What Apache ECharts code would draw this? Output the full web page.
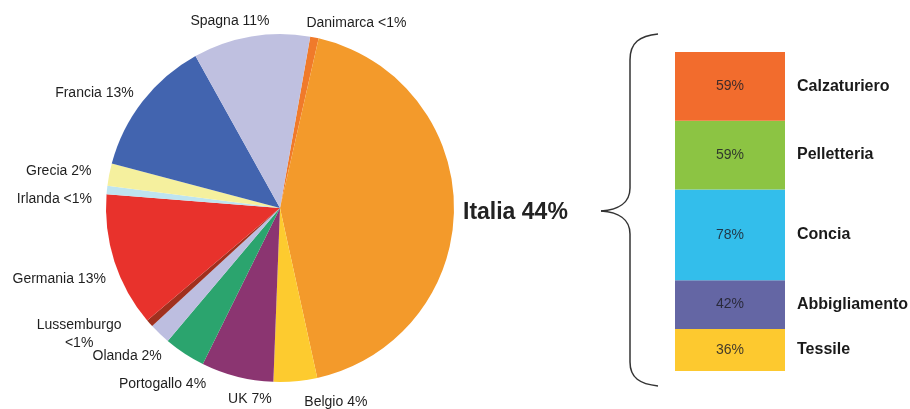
<!DOCTYPE html>
<html>
<head>
<meta charset="utf-8">
<script src="https://cdn.jsdelivr.net/npm/echarts@6/dist/echarts.min.js"></script>
<style>
  html, body { margin: 0; padding: 0; background: #fff; }
  #chart { width: 910px; height: 409px; }
</style>
</head>
<body>
<div id="chart"></div>
<script>
// Export shares by destination country (%), clockwise from the top
const countries = ['Danimarca', 'Italia', 'Belgio', 'UK', 'Portogallo', 'Olanda',
                   'Lussemburgo', 'Germania', 'Irlanda', 'Grecia', 'Francia', 'Spagna'];
const countryShares = [0.8, 43.6, 4.1, 6.8, 3.9, 2.0, 0.7, 12.6, 0.8, 2.1, 13.0, 11.0];
const countryColors = ['#F07A2A', '#F39A2B', '#FDCB2F', '#8B3571', '#2BA46E', '#BDBEE0',
                       '#A0301E', '#E8322C', '#BEE4F0', '#F5F09E', '#4264AF', '#BFC0E0'];
const wrappedNames = ['Lussemburgo'];

// Share of the Italian market by sector (%), top to bottom
const sectors = ['Calzaturiero', 'Pelletteria', 'Concia', 'Abbigliamento', 'Tessile'];
const sectorShares = [59, 59, 78, 42, 36];
const sectorColors = ['#F26C2D', '#8CC443', '#33BEEB', '#6466A4', '#FDC92F'];

const fontFamily = '"Liberation Sans", Arial, sans-serif';

// Small offsets that pull the outside labels snug against their slices
const labelNudge = {
  Danimarca: [-15, -5], Italia: [-6, 4], Belgio: [3, 11], UK: [42, 13],
  Portogallo: [32, 22], Olanda: [14, 15], Lussemburgo: [-58, 4], Germania: [6, 15],
  Irlanda: [0, 10], Grecia: [-3, -2], Francia: [4, -2], Spagna: [25, -5]
};

function shareText(v) {
  return v < 1 ? '<1%' : Math.round(v) + '%';
}

const pieData = countries.map((name, i) => {
  const item = {
    name: name,
    value: countryShares[i],
    itemStyle: { color: countryColors[i] }
  };
  if (name === 'Italia') {
    item.label = { fontSize: 23, fontWeight: 'bold', color: '#222' };
  }
  return item;
});

// Stacked column: first series sits at the bottom, so walk the sectors in reverse
const stackTotal = sectorShares.reduce((a, b) => a + b, 0);
const barSeries = sectors.map((name, i) => ({
  name: name,
  type: 'bar',
  stack: 'settori',
  barWidth: 110,
  data: [
    {
      value: sectorShares[i],
      itemStyle: { color: sectorColors[i] },
      label: {
        show: true, position: 'inside', formatter: '{c}%',
        fontSize: 14, color: 'rgba(30,30,40,0.85)', fontFamily: fontFamily
      }
    },
    {
      value: sectorShares[i],
      itemStyle: { color: 'rgba(0,0,0,0)' },
      label: {
        show: true, position: 'insideLeft', distance: 12,
        formatter: name, fontSize: 16, fontWeight: 'bold',
        color: '#1a1a1a', fontFamily: fontFamily
      }
    }
  ]
})).reverse();

// Curly brace joining the Italia slice to the sector column
const braceStyle = { fill: 'none', stroke: '#333', lineWidth: 1.5 };
const brace = [
  { type: 'bezierCurve', shape: { x1: 658, y1: 34, cpx1: 640, cpy1: 36, cpx2: 630, cpy2: 42, x2: 630, y2: 60 } },
  { type: 'line', shape: { x1: 630, y1: 60, x2: 630, y2: 188 } },
  { type: 'bezierCurve', shape: { x1: 630, y1: 188, cpx1: 630, cpy1: 203, cpx2: 618, cpy2: 210, x2: 601, y2: 211 } },
  { type: 'bezierCurve', shape: { x1: 601, y1: 211, cpx1: 618, cpy1: 212, cpx2: 630, cpy2: 219, x2: 630, y2: 234 } },
  { type: 'line', shape: { x1: 630, y1: 234, x2: 630, y2: 362 } },
  { type: 'bezierCurve', shape: { x1: 630, y1: 362, cpx1: 630, cpy1: 378, cpx2: 640, cpy2: 384, x2: 658, y2: 386 } }
].map(el => Object.assign(el, { style: braceStyle, silent: true }));

const chart = echarts.init(document.getElementById('chart'), null, { renderer: 'canvas' });

chart.setOption({
  backgroundColor: '#ffffff',
  animation: false,
  grid: { left: 675, top: 52, width: 220, height: 319 },
  xAxis: {
    type: 'category',
    data: ['quota', 'settore'],
    show: false
  },
  yAxis: {
    type: 'value',
    min: 0,
    max: stackTotal,
    show: false
  },
  series: [
    {
      type: 'pie',
      center: [280, 208],
      radius: 174,
      startAngle: 80,
      clockwise: true,
      avoidLabelOverlap: false,
      minShowLabelAngle: 0,
      data: pieData,
      label: {
        show: true,
        position: 'outside',
        fontSize: 14,
        color: '#1f1f1f',
        fontFamily: fontFamily,
        lineHeight: 18,
        formatter: p => wrappedNames.includes(p.name)
          ? p.name + '\n' + shareText(p.value)
          : p.name + ' ' + shareText(p.value)
      },
      labelLayout: p => {
        const name = countries[p.dataIndex];
        const n = labelNudge[name] || [0, 0];
        const layout = { dx: n[0], dy: n[1], hideOverlap: false, moveOverlap: false };
        if (wrappedNames.includes(name)) layout.align = 'center';
        return layout;
      },
      labelLine: { show: false, length: 10, length2: 0 },
      emphasis: { disabled: true }
    },
    ...barSeries
  ],
  graphic: brace
});
</script>
</body>
</html>
